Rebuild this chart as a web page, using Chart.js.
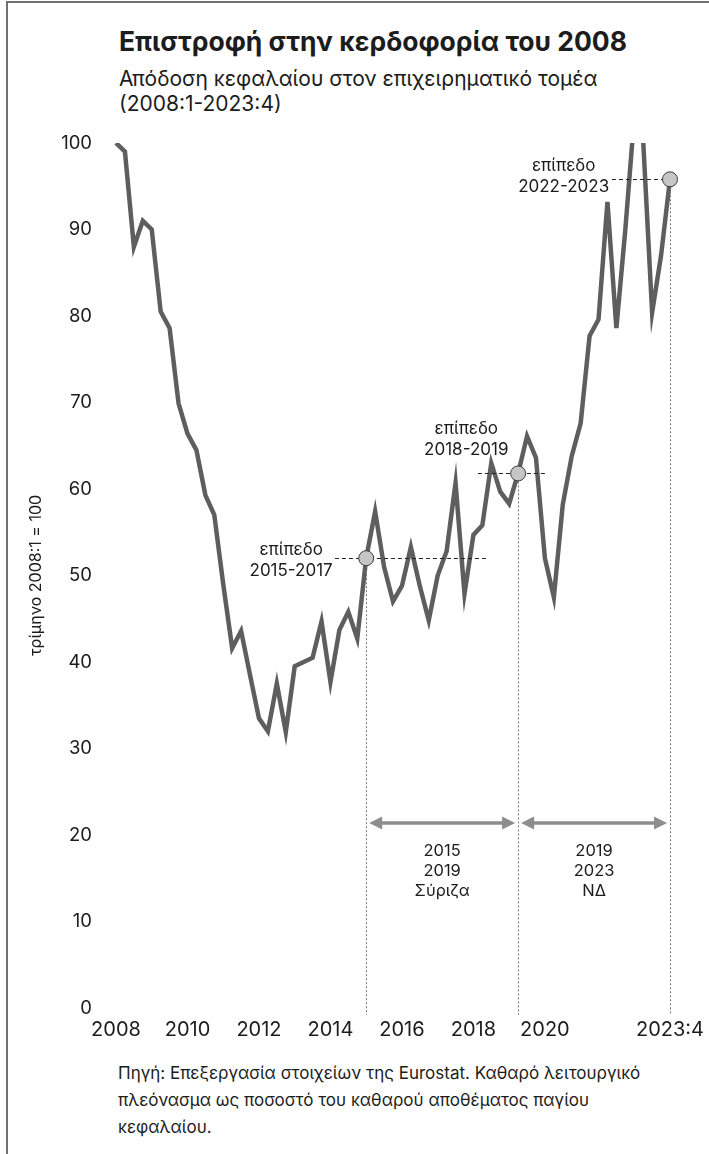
<!DOCTYPE html>
<html lang="el">
<head>
<meta charset="utf-8">
<script src="https://cdn.jsdelivr.net/npm/chart.js@4.4.0/dist/chart.umd.min.js"></script>
<style>
  html, body { margin: 0; padding: 0; background: #fff; }
  body { width: 709px; height: 1154px; position: relative; overflow: hidden; font-family: Inter, sans-serif; color: #1c1c1c; }
  .frame { position: absolute; left: 6px; top: 1px; right: -4px; bottom: -4px; border-top: 2px solid #707070; border-left: 2px solid #707070; }
  .title { position: absolute; left: 119px; top: 26px; font-size: 26.5px; font-weight: 700; line-height: 30px; white-space: nowrap; }
  .sub { position: absolute; left: 119px; top: 66px; font-size: 21px; line-height: 25px; white-space: nowrap; }
  .note { position: absolute; left: 118px; top: 1060px; font-size: 17px; line-height: 27px; white-space: nowrap; }
  .wrap { position: absolute; left: 0; top: 120px; width: 709px; height: 940px; }
</style>
</head>
<body>
<div class="frame"></div>
<div class="title">Επιστροφή στην κερδοφορία του 2008</div>
<div class="sub">Απόδοση κεφαλαίου στον επιχειρηματικό τομέα<br>(2008:1-2023:4)</div>
<div class="wrap"><canvas id="profitChart"></canvas></div>
<div class="note">Πηγή: Επεξεργασία στοιχείων της Eurostat. Καθαρό λειτουργικό<br>πλεόνασμα ως ποσοστό του καθαρού αποθέματος παγίου<br>κεφαλαίου.</div>
<script>
// quarters shown in the chart (63 points)
const categories = [];
for (let y = 2008; y <= 2023; y++) {
    for (let q = 1; q <= 4; q++) categories.push(y + ':' + q);
}
categories.length = 63;

// index, 2008:1 = 100
const profitIndex = [
    100, 99, 88, 91, 90, 80.5, 78.6, 69.9,
    66.4, 64.5, 59.3, 57, 49, 41.6, 43.6, 38.5,
    33.5, 32, 37.5, 31.9, 39.5, 40, 40.5, 44.7,
    37.7, 43.7, 45.8, 42.7, 52, 57.4, 51, 47,
    48.8, 53.3, 48.8, 44.8, 50, 52.8, 60.7, 47.9,
    54.7, 55.8, 63, 59.7, 58.3, 61.8, 66.1, 63.6,
    52, 47.5, 58.2, 63.8, 67.6, 77.7, 79.6, 93.2,
    78.6, 90, 103, 100.2, 80.4, 87, 95.8
];

const yTicks = [0, 10, 20, 30, 40, 50, 60, 70, 80, 90, 100];
const xTickIndex = [0, 8, 16, 24, 32, 40, 48, 62];
const xTickText = ['2008', '2010', '2012', '2014', '2016', '2018', '2020', '2023:4'];

// reference levels (marked quarters) and the periods between them
const markerIdx = [28, 45, 62];
const levelSpan = [[24.5, 41.6], [40.5, 48], [55.5, 62]];
const levelText = [['επίπεδο', '2015-2017'], ['επίπεδο', '2018-2019'], ['επίπεδο', '2022-2023']];
const levelTextAt = [[19.6, 51.7], [39.2, 65.7], [50.1, 96.1]];
const periodFrom = [28, 45];
const periodTo = [45, 62];
const periodText = [['2015', '2019', 'Σύριζα'], ['2019', '2023', 'ΝΔ']];
const periodY = 21.4;

Chart.defaults.font.family = 'Inter, sans-serif';
Chart.defaults.color = '#1c1c1c';

const notes = {
    id: 'notes',
    afterDatasetsDraw(chart) {
        const ctx = chart.ctx;
        const xs = chart.scales.x, ys = chart.scales.y;
        const pts = chart.getDatasetMeta(0).data;
        const bottom = chart.chartArea.bottom;
        ctx.save();

        // dotted drop lines
        ctx.strokeStyle = '#777';
        ctx.lineWidth = 1;
        ctx.setLineDash([2, 2]);
        markerIdx.forEach(i => {
            ctx.beginPath();
            ctx.moveTo(Math.round(pts[i].x) + 0.5, pts[i].y);
            ctx.lineTo(Math.round(pts[i].x) + 0.5, bottom + 7);
            ctx.stroke();
        });

        // dashed level lines
        ctx.strokeStyle = '#222';
        ctx.setLineDash([4, 3]);
        markerIdx.forEach((i, k) => {
            const y = Math.round(pts[i].y) + 0.5;
            ctx.beginPath();
            ctx.moveTo(xs.getPixelForValue(levelSpan[k][0]), y);
            ctx.lineTo(xs.getPixelForValue(levelSpan[k][1]), y);
            ctx.stroke();
        });
        ctx.setLineDash([]);

        // markers
        markerIdx.forEach(i => {
            ctx.beginPath();
            ctx.arc(pts[i].x, pts[i].y, 7.5, 0, Math.PI * 2);
            ctx.fillStyle = '#c6c6c6';
            ctx.fill();
            ctx.strokeStyle = '#3a3a3a';
            ctx.lineWidth = 1;
            ctx.stroke();
        });

        // level labels
        ctx.fillStyle = '#1c1c1c';
        ctx.font = '17px Inter, sans-serif';
        ctx.textAlign = 'center';
        ctx.textBaseline = 'middle';
        levelText.forEach((lines, k) => {
            const cx = xs.getPixelForValue(levelTextAt[k][0]);
            const cy = ys.getPixelForValue(levelTextAt[k][1]);
            ctx.fillText(lines[0], cx, cy - 10.5);
            ctx.fillText(lines[1], cx, cy + 10.5);
        });

        // period arrows
        const ay = ys.getPixelForValue(periodY);
        ctx.strokeStyle = '#8d8d8d';
        ctx.fillStyle = '#8d8d8d';
        ctx.lineWidth = 3.5;
        periodFrom.forEach((from, k) => {
            const x1 = xs.getPixelForValue(from) + 3;
            const x2 = xs.getPixelForValue(periodTo[k]) - 3;
            ctx.beginPath();
            ctx.moveTo(x1 + 8, ay);
            ctx.lineTo(x2 - 8, ay);
            ctx.stroke();
            ctx.beginPath();
            ctx.moveTo(x1, ay);
            ctx.lineTo(x1 + 13, ay - 6.5);
            ctx.lineTo(x1 + 13, ay + 6.5);
            ctx.closePath();
            ctx.fill();
            ctx.beginPath();
            ctx.moveTo(x2, ay);
            ctx.lineTo(x2 - 13, ay - 6.5);
            ctx.lineTo(x2 - 13, ay + 6.5);
            ctx.closePath();
            ctx.fill();

            ctx.fillStyle = '#1c1c1c';
            ctx.font = '16.5px Inter, sans-serif';
            const cx = (x1 + x2) / 2;
            periodText[k].forEach((t, j) => ctx.fillText(t, cx, ay + 28 + j * 20));
            ctx.fillStyle = '#8d8d8d';
        });
        ctx.restore();
    }
};

new Chart(document.getElementById('profitChart'), {
    type: 'line',
    data: {
        labels: categories,
        datasets: [{
            data: profitIndex,
            borderColor: '#5e5e5e',
            borderWidth: 4.5,
            pointRadius: 0,
            tension: 0
        }]
    },
    options: {
        responsive: true,
        maintainAspectRatio: false,
        animation: false,
        layout: { padding: { left: 27, right: 39, top: 23, bottom: 22 } },
        plugins: { legend: { display: false }, tooltip: { enabled: false } },
        scales: {
            x: {
                grid: { display: false, drawTicks: false },
                border: { display: false },
                ticks: {
                    autoSkip: false,
                    maxRotation: 0,
                    padding: 10,
                    font: { size: 20 },
                    callback: (v, i) => {
                        const k = xTickIndex.indexOf(i);
                        return k < 0 ? '' : xTickText[k];
                    }
                },
                afterFit: s => { s.height = 30; s.paddingLeft = 0; s.paddingRight = 0; }
            },
            y: {
                min: 0,
                max: 100,
                afterBuildTicks: s => { s.ticks = yTicks.map(v => ({ value: v })); },
                grid: { display: false, drawTicks: false },
                border: { display: false },
                ticks: { padding: 24, font: { size: 18.5 } },
                title: { display: true, text: 'τρίμηνο 2008:1 = 100', font: { size: 16 }, padding: 0 },
                afterFit: s => { s.width = 89; s.paddingTop = 0; s.paddingBottom = 0; }
            }
        }
    },
    plugins: [notes]
});
</script>
</body>
</html>
